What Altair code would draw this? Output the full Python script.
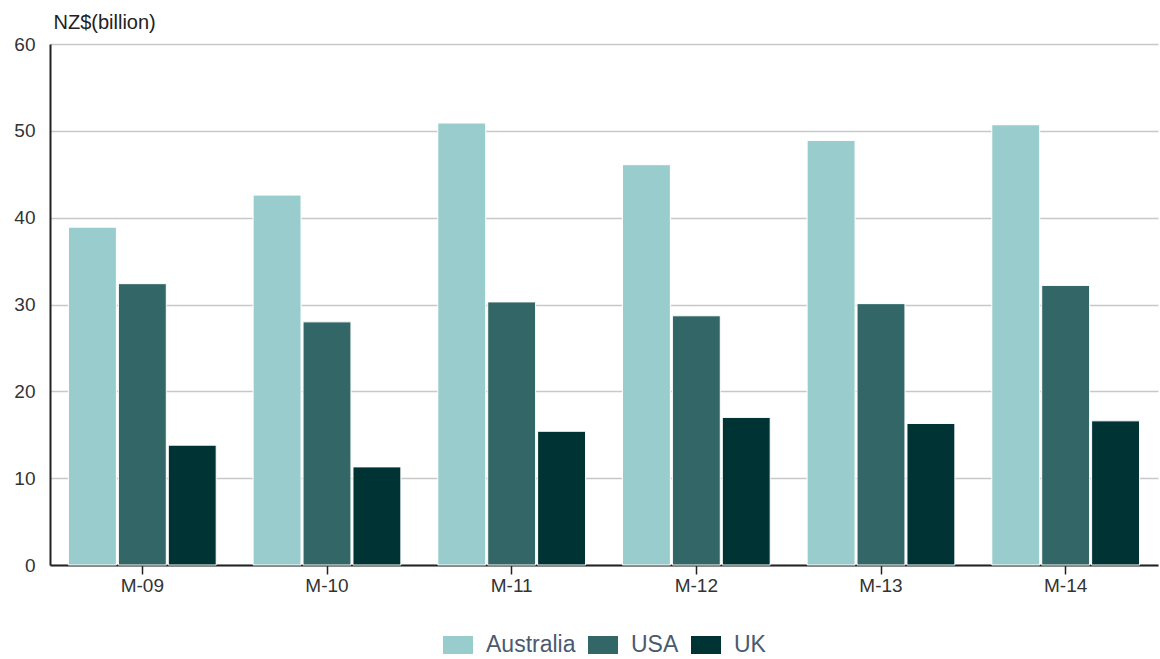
import altair as alt
import pandas as pd

years = ["M-09", "M-10", "M-11", "M-12", "M-13", "M-14"]
australia = [38.9, 42.6, 50.9, 46.1, 48.9, 50.7]
usa = [32.4, 28.0, 30.3, 28.7, 30.1, 32.2]
uk = [13.8, 11.3, 15.4, 17.0, 16.3, 16.6]
series = ["Australia", "USA", "UK"]
colors = ["#99cccc", "#336666", "#003333"]

rows = []
for name, vals in zip(series, [australia, usa, uk]):
    for y, v in zip(years, vals):
        rows.append({"year": y, "country": name, "value": v})
df = pd.DataFrame(rows)

FONT = "Liberation Sans"

chart = alt.Chart(df).mark_bar(stroke="white", strokeWidth=1).encode(
    x=alt.X("year:N", sort=years,
            scale=alt.Scale(paddingInner=0.2, paddingOuter=0.1),
            axis=alt.Axis(title=None, labelAngle=0, labelFontSize=19, labelColor="#333333",
                          labelFont=FONT, domainColor="#222222", domainWidth=2,
                          tickColor="#222222", tickSize=9, tickWidth=1.5, labelPadding=2,
                          grid=False)),
    xOffset=alt.XOffset("country:N", sort=series, scale=alt.Scale(paddingInner=0.04)),
    y=alt.Y("value:Q", scale=alt.Scale(domain=[0, 60]),
            axis=alt.Axis(values=[0, 10, 20, 30, 40, 50, 60], title="NZ$(billion)",
                          titleAngle=0, titleAlign="left", titleBaseline="middle",
                          titleX=3, titleY=-22, titleFontSize=20, titleFontWeight="normal",
                          titleColor="#222222", titleFont=FONT,
                          labelFontSize=19, labelColor="#333333", labelFont=FONT,
                          labelPadding=15, ticks=False, domainColor="#222222", domainWidth=2,
                          gridColor="#c8c8c8", gridWidth=1.5)),
    color=alt.Color("country:N", sort=series,
                    scale=alt.Scale(domain=series, range=colors),
                    legend=alt.Legend(title=None, orient="none", direction="horizontal",
                                      legendX=393, legendY=586,
                                      symbolType="M-1,-0.6H1V0.6H-1Z", symbolSize=900,
                                      symbolStrokeWidth=0, symbolOpacity=1,
                                      labelFontSize=23, labelColor="#4a5a70", labelFont=FONT,
                                      labelOffset=13, columnPadding=12)),
).properties(
    width=1108, height=521,
    padding={"left": 50, "top": 44, "right": 2, "bottom": 94},
    autosize=alt.AutoSizeParams(type="none"),
).configure_view(stroke=None)

chart.save("out.html", embed_options={"renderer": "svg", "actions": False})
